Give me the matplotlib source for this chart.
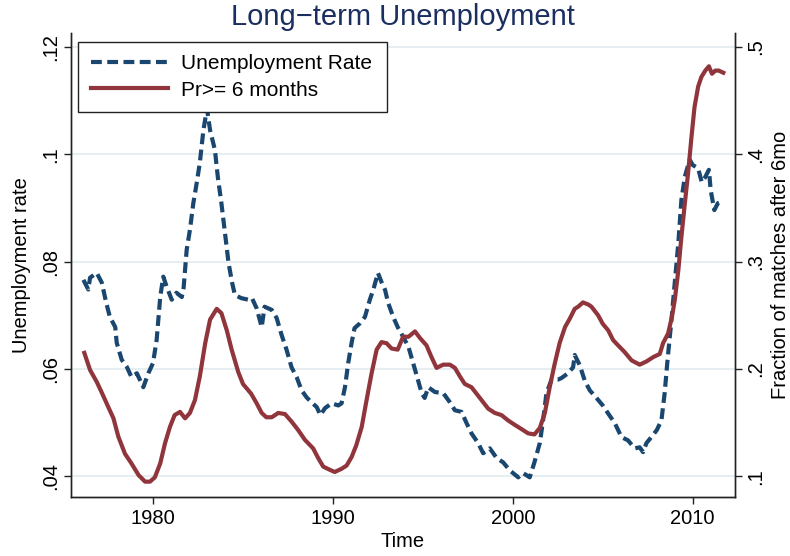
import matplotlib
matplotlib.use("Agg")
import matplotlib.pyplot as plt

plt.rcParams['font.family'] = ['Liberation Sans', 'DejaVu Sans']

years_unemp = [1976.13, 1976.4, 1976.5, 1976.87, 1977.15, 1977.4, 1977.6, 1977.9, 1977.98,
               1978.26, 1978.54, 1978.8, 1979.1, 1979.46, 1979.74, 1980.0, 1980.2, 1980.4,
               1980.57, 1980.76, 1981.04, 1981.3, 1981.6, 1981.7, 1981.87, 1982.05, 1982.24,
               1982.43, 1982.6, 1982.8, 1983.0, 1983.17, 1983.44, 1983.6, 1983.8, 1984.0,
               1984.2, 1984.4, 1984.55, 1984.9, 1985.3, 1985.5, 1985.76, 1986.04, 1986.2,
               1986.6, 1986.87, 1987.15, 1987.43, 1987.7, 1987.98, 1988.26, 1988.54, 1988.8,
               1989.1, 1989.3, 1989.56, 1989.93, 1990.3, 1990.48, 1990.67, 1990.85, 1991.04,
               1991.2, 1991.5, 1991.78, 1992.05, 1992.24, 1992.5, 1992.7, 1992.9, 1993.07,
               1993.35, 1993.6, 1993.9, 1994.2, 1994.46, 1994.74, 1994.93, 1995.1, 1995.3,
               1995.67, 1996.13, 1996.5, 1996.78, 1997.15, 1997.43, 1997.7, 1998.07, 1998.35,
               1998.72, 1999.1, 1999.46, 1999.83, 2000.3, 2000.57, 2000.94, 2001.2, 2001.5,
               2001.68, 2001.87, 2002.15, 2002.5, 2002.7, 2003.07, 2003.35, 2003.44, 2003.72,
               2004.0, 2004.28, 2004.65, 2005.0, 2005.3, 2005.67, 2006.04, 2006.4, 2006.78,
               2007.05, 2007.24, 2007.43, 2007.7, 2008.0, 2008.26, 2008.44, 2008.6, 2008.8,
               2009.0, 2009.2, 2009.37, 2009.56, 2009.83, 2010.0, 2010.3, 2010.5, 2010.67,
               2010.9, 2011.0, 2011.2, 2011.4, 2011.55]
unemp_rate = [0.0766, 0.0748, 0.0770, 0.0779, 0.0761, 0.0723, 0.0697, 0.0678, 0.0649,
              0.0617, 0.0604, 0.0585, 0.0592, 0.0566, 0.0592, 0.0611, 0.0654, 0.0734,
              0.0772, 0.0753, 0.0729, 0.0742, 0.0734, 0.0751, 0.0822, 0.0859, 0.0909,
              0.0947, 0.0984, 0.1045, 0.1085, 0.1045, 0.1008, 0.0958, 0.0909, 0.0853,
              0.0797, 0.0760, 0.0738, 0.0732, 0.0729, 0.0732, 0.0713, 0.0678, 0.0716,
              0.0710, 0.0695, 0.0663, 0.0635, 0.0603, 0.0585, 0.0560, 0.0547, 0.0538,
              0.0529, 0.0514, 0.0527, 0.0536, 0.0532, 0.0536, 0.0566, 0.0611, 0.0649,
              0.0676, 0.0685, 0.0697, 0.0729, 0.0747, 0.0779, 0.0762, 0.0747, 0.0723,
              0.0697, 0.0678, 0.0660, 0.0641, 0.0611, 0.0578, 0.0555, 0.0546, 0.0566,
              0.0557, 0.0555, 0.0538, 0.0523, 0.0520, 0.0499, 0.0480, 0.0462, 0.0443,
              0.0452, 0.0434, 0.0426, 0.0411, 0.0398, 0.0406, 0.0398, 0.0426, 0.0462,
              0.0504, 0.0555, 0.0580, 0.0580, 0.0583, 0.0592, 0.0603, 0.0626, 0.0607,
              0.0578, 0.0560, 0.0546, 0.0532, 0.0517, 0.0499, 0.0473, 0.0467, 0.0452,
              0.0454, 0.0445, 0.0462, 0.0473, 0.0486, 0.0504, 0.0555, 0.0617, 0.0685,
              0.0760, 0.0835, 0.0915, 0.0958, 0.0990, 0.0980, 0.0974, 0.0948, 0.0956,
              0.0971, 0.0933, 0.0896, 0.0909, 0.0911]

years_prob = [1976.18, 1976.5, 1976.87, 1977.15, 1977.5, 1977.8, 1978.07, 1978.44, 1978.8,
              1979.2, 1979.56, 1979.83, 1980.1, 1980.4, 1980.67, 1980.94, 1981.2, 1981.5,
              1981.78, 1982.05, 1982.33, 1982.6, 1982.9, 1983.17, 1983.54, 1983.8, 1984.1,
              1984.37, 1984.74, 1985.0, 1985.45, 1985.76, 1986.04, 1986.3, 1986.6, 1986.96,
              1987.33, 1987.7, 1988.07, 1988.44, 1988.9, 1989.18, 1989.46, 1989.83, 1990.1,
              1990.48, 1990.76, 1991.04, 1991.3, 1991.6, 1991.87, 1992.15, 1992.43, 1992.7,
              1992.98, 1993.26, 1993.6, 1993.9, 1994.2, 1994.56, 1994.83, 1995.2, 1995.48,
              1995.76, 1996.13, 1996.5, 1996.78, 1997.06, 1997.33, 1997.7, 1997.98, 1998.26,
              1998.63, 1999.0, 1999.37, 1999.74, 2000.1, 2000.48, 2000.85, 2001.2, 2001.5,
              2001.78, 2002.05, 2002.33, 2002.6, 2002.9, 2003.17, 2003.44, 2003.63, 2003.9,
              2004.2, 2004.37, 2004.74, 2005.0, 2005.3, 2005.57, 2005.85, 2006.2, 2006.6,
              2007.05, 2007.43, 2007.8, 2008.17, 2008.35, 2008.63, 2008.85, 2009.0, 2009.2,
              2009.37, 2009.56, 2009.74, 2009.93, 2010.1, 2010.3, 2010.48, 2010.7, 2010.9,
              2011.07, 2011.26, 2011.44, 2011.7]
prob_6mo = [0.215, 0.199, 0.188, 0.178, 0.165, 0.154, 0.137, 0.121, 0.112,
            0.101, 0.095, 0.095, 0.099, 0.112, 0.131, 0.146, 0.157, 0.160,
            0.154, 0.159, 0.171, 0.193, 0.224, 0.246, 0.256, 0.252, 0.236,
            0.218, 0.197, 0.186, 0.177, 0.168, 0.159, 0.155, 0.155, 0.159,
            0.158, 0.151, 0.143, 0.134, 0.126, 0.117, 0.109, 0.106, 0.104,
            0.107, 0.110, 0.118, 0.129, 0.146, 0.171, 0.196, 0.218, 0.225,
            0.224, 0.219, 0.218, 0.230, 0.230, 0.235, 0.229, 0.222, 0.211,
            0.201, 0.204, 0.204, 0.201, 0.193, 0.186, 0.183, 0.177, 0.171,
            0.163, 0.159, 0.157, 0.152, 0.148, 0.144, 0.140, 0.139, 0.145,
            0.159, 0.183, 0.205, 0.224, 0.239, 0.247, 0.256, 0.258, 0.262,
            0.260, 0.258, 0.250, 0.242, 0.236, 0.227, 0.222, 0.216, 0.208,
            0.204, 0.207, 0.211, 0.214, 0.224, 0.233, 0.249, 0.264, 0.292,
            0.323, 0.354, 0.382, 0.416, 0.444, 0.463, 0.472, 0.478, 0.482,
            0.475, 0.478, 0.478, 0.476]

left_ticks = [0.04, 0.06, 0.08, 0.10, 0.12]
left_labels = ['.04', '.06', '.08', '.1', '.12']
right_ticks = [0.1, 0.2, 0.3, 0.4, 0.5]
right_labels = ['.1', '.2', '.3', '.4', '.5']
x_ticks = [1980, 1990, 2000, 2010]

BLUE = '#1a476f'
RED = '#90353b'
TITLE = '#1a2e5f'
GRID = '#e6eef1'
FS = 14.5

fig = plt.figure(figsize=(7.9, 5.56), dpi=100)
ax = fig.add_axes([71/790, 1-497/556, 664/790, 464/556])
ax2 = ax.twinx()

l1, = ax.plot(years_unemp, unemp_rate, color=BLUE, lw=3.0, dashes=(2.6, 1.3),
              label='Unemployment Rate', solid_capstyle='butt', dash_capstyle='butt')
l2, = ax2.plot(years_prob, prob_6mo, color=RED, lw=3.0, label='Pr>= 6 months')

ax.set_xlim(1975.44, 2012.35)
ax.set_ylim(0.03614, 0.1226)
ax2.set_ylim(0.0807, 0.513)

ax.set_yticks(left_ticks)
ax.set_yticklabels(left_labels)
ax2.set_yticks(right_ticks)
ax2.set_yticklabels(right_labels)
ax.set_xticks(x_ticks)

ax.grid(axis='y', color=GRID, lw=1.5)
ax.grid(axis='x', visible=False)
ax.set_axisbelow(True)

for a in (ax, ax2):
    a.spines['top'].set_visible(False)
    for s in ('left', 'right', 'bottom'):
        a.spines[s].set_linewidth(1.0)
        a.spines[s].set_color('#222222')
    a.tick_params(length=5, width=1.0, color='#222222', labelsize=FS)

ax.tick_params(axis='y', labelrotation=90, pad=3)
ax2.tick_params(axis='y', labelrotation=90, pad=3)
ax.tick_params(axis='x', pad=4)
for t in ax.get_yticklabels():
    t.set_va('center')
for t in ax2.get_yticklabels():
    t.set_va('center')

ax.set_xlabel('Time', fontsize=FS, va='center')
ax.xaxis.set_label_coords(0.5, -0.095)
ax.set_ylabel('Unemployment rate', fontsize=FS, va='center', ha='center')
ax.yaxis.set_label_coords(-0.074, 0.5)
ax2.set_ylabel('Fraction of matches after 6mo', fontsize=FS, rotation=90,
               va='center', ha='center')
ax2.yaxis.set_label_coords(1.068, 0.5)

ax.set_title('Long\u2212term Unemployment', fontsize=21, color=TITLE, pad=6)

leg = ax2.legend(handles=[l1, l2], loc='upper left',
                 bbox_to_anchor=(7/664, 455/464, 309/664, 0.0), mode='expand',
                 borderaxespad=0, fontsize=15, handlelength=3.7, handletextpad=0.65,
                 borderpad=0.6, labelspacing=0.35, fancybox=False, framealpha=1,
                 edgecolor='#222222')
leg.get_frame().set_linewidth(1.0)

fig.savefig('out.png', dpi=100, facecolor='white')
